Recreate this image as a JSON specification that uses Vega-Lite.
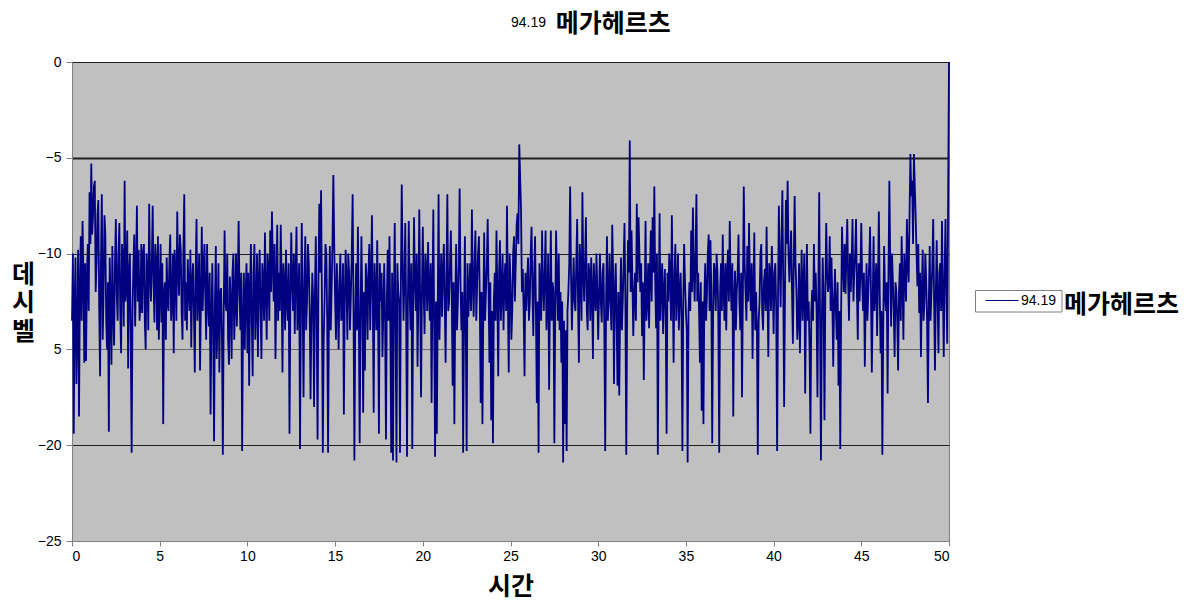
{
"$schema": "https://vega.github.io/schema/vega-lite/v6.json",
"width": 877, "height": 479,
"autosize": {"type": "none"},
"padding": {"left": 72, "top": 62, "right": 245, "bottom": 63},
"background": "white",
"title": {"text": "\u2800\u2800 메가헤르츠", "subtitle": "94.19", "anchor": "start", "frame": "group", "dx": 439, "font": "Noto Sans CJK KR, DejaVu Sans", "fontSize": 25, "fontWeight": "bold", "color": "black", "subtitleFont": "Liberation Sans", "subtitleFontSize": 14, "subtitleColor": "black", "subtitlePadding": -21, "offset": 18},
"config": {"view": {"fill": "#C0C0C0", "stroke": "#808080", "strokeWidth": 1}},
"data": {"values": [
{"t":0,"v":-13.5},{"t":0.1,"v":-19.4},{"t":0.2,"v":-10.2},{"t":0.3,"v":-14.2},{"t":0.4,"v":-18.5},{"t":0.5,"v":-9.1},{"t":0.6,"v":-8.3},{"t":0.7,"v":-15.7},{"t":0.8,"v":-15.6},{"t":0.9,"v":-9.5},
{"t":1,"v":-6.8},{"t":1.1,"v":-5.3},{"t":1.2,"v":-8.0},{"t":1.3,"v":-6.2},{"t":1.4,"v":-10.5},{"t":1.5,"v":-7.2},{"t":1.6,"v":-16.4},{"t":1.7,"v":-6.9},{"t":1.8,"v":-12.0},{"t":1.9,"v":-9.0},
{"t":2,"v":-15.0},{"t":2.1,"v":-19.3},{"t":2.2,"v":-12.5},{"t":2.3,"v":-9.6},{"t":2.4,"v":-14.8},{"t":2.5,"v":-8.2},{"t":2.6,"v":-13.5},{"t":2.7,"v":-8.4},{"t":2.8,"v":-15.2},{"t":2.9,"v":-10.4},
{"t":3,"v":-6.2},{"t":3.1,"v":-11.5},{"t":3.2,"v":-16.0},{"t":3.3,"v":-10.0},{"t":3.4,"v":-20.4},{"t":3.5,"v":-10.7},{"t":3.6,"v":-13.8},{"t":3.7,"v":-7.5},{"t":3.8,"v":-9.8},{"t":3.9,"v":-12.8},
{"t":4,"v":-13.1},{"t":4.1,"v":-9.5},{"t":4.2,"v":-15.0},{"t":4.3,"v":-11.0},{"t":4.4,"v":-7.4},{"t":4.5,"v":-12.5},{"t":4.6,"v":-7.5},{"t":4.7,"v":-13.6},{"t":4.8,"v":-10.5},{"t":4.9,"v":-9.1},
{"t":5,"v":-12.0},{"t":5.1,"v":-13.6},{"t":5.2,"v":-18.9},{"t":5.3,"v":-11.5},{"t":5.4,"v":-10.2},{"t":5.5,"v":-13.0},{"t":5.6,"v":-9.0},{"t":5.7,"v":-12.5},{"t":5.8,"v":-15.2},{"t":5.9,"v":-11.0},
{"t":6,"v":-7.8},{"t":6.1,"v":-12.2},{"t":6.2,"v":-9.8},{"t":6.3,"v":-14.5},{"t":6.4,"v":-6.9},{"t":6.5,"v":-11.5},{"t":6.6,"v":-10.3},{"t":6.7,"v":-13.0},{"t":6.8,"v":-14.9},{"t":6.9,"v":-10.5},
{"t":7,"v":-16.2},{"t":7.1,"v":-8.2},{"t":7.2,"v":-12.0},{"t":7.3,"v":-16.1},{"t":7.4,"v":-8.6},{"t":7.5,"v":-11.0},{"t":7.6,"v":-12.2},{"t":7.7,"v":-9.5},{"t":7.8,"v":-13.8},{"t":7.9,"v":-18.4},
{"t":8,"v":-10.5},{"t":8.1,"v":-19.8},{"t":8.2,"v":-9.6},{"t":8.3,"v":-13.5},{"t":8.4,"v":-16.2},{"t":8.5,"v":-11.8},{"t":8.6,"v":-20.5},{"t":8.7,"v":-8.8},{"t":8.8,"v":-13.0},{"t":8.9,"v":-14.5},
{"t":9,"v":-11.2},{"t":9.1,"v":-15.5},{"t":9.2,"v":-10.0},{"t":9.3,"v":-12.5},{"t":9.4,"v":-13.8},{"t":9.5,"v":-8.3},{"t":9.6,"v":-14.0},{"t":9.7,"v":-20.3},{"t":9.8,"v":-11.0},{"t":9.9,"v":-12.1},
{"t":10,"v":-15.2},{"t":10.1,"v":-16.9},{"t":10.2,"v":-9.5},{"t":10.3,"v":-16.4},{"t":10.4,"v":-9.5},{"t":10.5,"v":-12.8},{"t":10.6,"v":-15.4},{"t":10.7,"v":-9.8},{"t":10.8,"v":-15.5},{"t":10.9,"v":-11.5},
{"t":11,"v":-8.9},{"t":11.1,"v":-14.5},{"t":11.2,"v":-10.8},{"t":11.3,"v":-8.8},{"t":11.4,"v":-7.8},{"t":11.5,"v":-12.5},{"t":11.6,"v":-15.5},{"t":11.7,"v":-8.5},{"t":11.8,"v":-11.0},{"t":11.9,"v":-8.5},
{"t":12,"v":-16.2},{"t":12.1,"v":-11.5},{"t":12.2,"v":-9.8},{"t":12.3,"v":-13.5},{"t":12.4,"v":-19.4},{"t":12.5,"v":-8.9},{"t":12.6,"v":-13.0},{"t":12.7,"v":-14.2},{"t":12.8,"v":-8.6},{"t":12.9,"v":-12.0},
{"t":13,"v":-20.2},{"t":13.1,"v":-8.4},{"t":13.2,"v":-17.5},{"t":13.3,"v":-9.1},{"t":13.4,"v":-12.5},{"t":13.5,"v":-10.5},{"t":13.6,"v":-17.6},{"t":13.7,"v":-11.0},{"t":13.8,"v":-18.0},{"t":13.9,"v":-9.1},
{"t":14,"v":-19.7},{"t":14.1,"v":-7.4},{"t":14.2,"v":-6.7},{"t":14.3,"v":-20.4},{"t":14.4,"v":-12.4},{"t":14.5,"v":-10.0},{"t":14.6,"v":-20.4},{"t":14.7,"v":-9.6},{"t":14.8,"v":-12.0},{"t":14.9,"v":-5.9},
{"t":15,"v":-12.4},{"t":15.1,"v":-10.5},{"t":15.2,"v":-15.0},{"t":15.3,"v":-10.0},{"t":15.4,"v":-13.0},{"t":15.5,"v":-18.4},{"t":15.6,"v":-9.8},{"t":15.7,"v":-14.5},{"t":15.8,"v":-11.0},{"t":15.9,"v":-12.1},
{"t":16,"v":-6.9},{"t":16.1,"v":-20.8},{"t":16.2,"v":-10.5},{"t":16.3,"v":-8.6},{"t":16.4,"v":-19.9},{"t":16.5,"v":-9.1},{"t":16.6,"v":-18.3},{"t":16.7,"v":-16.1},{"t":16.8,"v":-11.5},{"t":16.9,"v":-11.0},
{"t":17,"v":-14.0},{"t":17.1,"v":-8.0},{"t":17.2,"v":-18.3},{"t":17.3,"v":-12.0},{"t":17.4,"v":-9.3},{"t":17.5,"v":-19.4},{"t":17.6,"v":-12.5},{"t":17.7,"v":-15.4},{"t":17.8,"v":-10.5},{"t":17.9,"v":-19.7},
{"t":18,"v":-9.8},{"t":18.1,"v":-9.1},{"t":18.2,"v":-20.4},{"t":18.3,"v":-20.8},{"t":18.4,"v":-8.4},{"t":18.5,"v":-20.9},{"t":18.6,"v":-12.0},{"t":18.7,"v":-20.4},{"t":18.8,"v":-6.4},{"t":18.9,"v":-13.5},
{"t":19,"v":-8.4},{"t":19.1,"v":-20.6},{"t":19.2,"v":-8.3},{"t":19.3,"v":-14.0},{"t":19.4,"v":-20.2},{"t":19.5,"v":-8.1},{"t":19.6,"v":-13.0},{"t":19.7,"v":-15.9},{"t":19.8,"v":-7.7},{"t":19.9,"v":-17.5},
{"t":20,"v":-8.6},{"t":20.1,"v":-14.2},{"t":20.2,"v":-11.0},{"t":20.3,"v":-9.4},{"t":20.4,"v":-13.5},{"t":20.5,"v":-17.8},{"t":20.6,"v":-7.7},{"t":20.7,"v":-20.6},{"t":20.8,"v":-19.4},{"t":20.9,"v":-6.9},
{"t":21,"v":-12.0},{"t":21.1,"v":-13.3},{"t":21.2,"v":-9.5},{"t":21.3,"v":-15.7},{"t":21.4,"v":-6.9},{"t":21.5,"v":-12.5},{"t":21.6,"v":-8.8},{"t":21.7,"v":-16.9},{"t":21.8,"v":-18.9},{"t":21.9,"v":-9.5},
{"t":22,"v":-12.5},{"t":22.1,"v":-6.6},{"t":22.2,"v":-14.0},{"t":22.3,"v":-20.4},{"t":22.4,"v":-9.1},{"t":22.5,"v":-20.3},{"t":22.6,"v":-13.3},{"t":22.7,"v":-10.5},{"t":22.8,"v":-7.7},{"t":22.9,"v":-13.3},
{"t":23,"v":-8.8},{"t":23.1,"v":-11.5},{"t":23.2,"v":-9.1},{"t":23.3,"v":-17.8},{"t":23.4,"v":-18.9},{"t":23.5,"v":-8.9},{"t":23.6,"v":-12.0},{"t":23.7,"v":-8.2},{"t":23.8,"v":-15.7},{"t":23.9,"v":-18.7},
{"t":24,"v":-19.9},{"t":24.1,"v":-11.0},{"t":24.2,"v":-8.8},{"t":24.3,"v":-16.4},{"t":24.4,"v":-9.3},{"t":24.5,"v":-12.0},{"t":24.6,"v":-14.0},{"t":24.7,"v":-10.5},{"t":24.8,"v":-7.5},{"t":24.9,"v":-16.2},
{"t":25,"v":-11.5},{"t":25.1,"v":-13.0},{"t":25.2,"v":-9.1},{"t":25.3,"v":-10.5},{"t":25.4,"v":-7.9},{"t":25.5,"v":-4.3},{"t":25.6,"v":-7.7},{"t":25.7,"v":-10.8},{"t":25.8,"v":-16.4},{"t":25.9,"v":-13.0},
{"t":26,"v":-10.2},{"t":26.1,"v":-12.5},{"t":26.2,"v":-8.6},{"t":26.3,"v":-14.3},{"t":26.4,"v":-9.1},{"t":26.5,"v":-17.8},{"t":26.6,"v":-20.4},{"t":26.7,"v":-12.0},{"t":26.8,"v":-8.8},{"t":26.9,"v":-13.0},
{"t":27,"v":-8.8},{"t":27.1,"v":-12.5},{"t":27.2,"v":-17.1},{"t":27.3,"v":-8.8},{"t":27.4,"v":-11.5},{"t":27.5,"v":-19.9},{"t":27.6,"v":-8.8},{"t":27.7,"v":-13.5},{"t":27.8,"v":-14.0},{"t":27.9,"v":-15.7},
{"t":28,"v":-20.9},{"t":28.1,"v":-18.9},{"t":28.2,"v":-20.3},{"t":28.3,"v":-12.0},{"t":28.4,"v":-6.5},{"t":28.5,"v":-14.0},{"t":28.6,"v":-10.2},{"t":28.7,"v":-13.0},{"t":28.8,"v":-8.2},{"t":28.9,"v":-15.7},
{"t":29,"v":-11.0},{"t":29.1,"v":-6.8},{"t":29.2,"v":-12.5},{"t":29.3,"v":-8.1},{"t":29.4,"v":-14.0},{"t":29.5,"v":-11.0},{"t":29.6,"v":-10.2},{"t":29.7,"v":-15.5},{"t":29.8,"v":-12.0},{"t":29.9,"v":-10.0},
{"t":30,"v":-14.5},{"t":30.1,"v":-10.0},{"t":30.2,"v":-13.6},{"t":30.3,"v":-10.5},{"t":30.4,"v":-20.3},{"t":30.5,"v":-9.1},{"t":30.6,"v":-12.5},{"t":30.7,"v":-12.2},{"t":30.8,"v":-8.5},{"t":30.9,"v":-16.8},
{"t":31,"v":-10.5},{"t":31.1,"v":-16.9},{"t":31.2,"v":-17.4},{"t":31.3,"v":-10.2},{"t":31.4,"v":-12.5},{"t":31.5,"v":-8.4},{"t":31.6,"v":-20.5},{"t":31.7,"v":-9.3},{"t":31.8,"v":-4.1},{"t":31.9,"v":-8.8},
{"t":32,"v":-14.3},{"t":32.1,"v":-11.0},{"t":32.2,"v":-7.4},{"t":32.3,"v":-8.1},{"t":32.4,"v":-12.0},{"t":32.5,"v":-14.3},{"t":32.6,"v":-16.6},{"t":32.7,"v":-8.3},{"t":32.8,"v":-12.5},{"t":32.9,"v":-13.9},
{"t":33,"v":-8.8},{"t":33.1,"v":-8.1},{"t":33.2,"v":-6.5},{"t":33.3,"v":-13.9},{"t":33.4,"v":-20.5},{"t":33.5,"v":-7.9},{"t":33.6,"v":-11.5},{"t":33.7,"v":-14.2},{"t":33.8,"v":-10.8},{"t":33.9,"v":-19.4},
{"t":34,"v":-12.5},{"t":34.1,"v":-11.0},{"t":34.2,"v":-8.0},{"t":34.3,"v":-15.7},{"t":34.4,"v":-9.5},{"t":34.5,"v":-12.0},{"t":34.6,"v":-14.0},{"t":34.7,"v":-11.0},{"t":34.8,"v":-20.3},{"t":34.9,"v":-9.5},
{"t":35,"v":-13.0},{"t":35.1,"v":-20.9},{"t":35.2,"v":-11.5},{"t":35.3,"v":-8.8},{"t":35.4,"v":-7.6},{"t":35.5,"v":-12.5},{"t":35.6,"v":-6.9},{"t":35.7,"v":-11.0},{"t":35.8,"v":-15.7},{"t":35.9,"v":-18.2},
{"t":36,"v":-18.9},{"t":36.1,"v":-10.5},{"t":36.2,"v":-12.2},{"t":36.3,"v":-9.0},{"t":36.4,"v":-9.3},{"t":36.5,"v":-19.9},{"t":36.6,"v":-10.5},{"t":36.7,"v":-13.0},{"t":36.8,"v":-11.0},{"t":36.9,"v":-20.4},
{"t":37,"v":-10.5},{"t":37.1,"v":-9.0},{"t":37.2,"v":-13.5},{"t":37.3,"v":-14.0},{"t":37.4,"v":-9.8},{"t":37.5,"v":-8.3},{"t":37.6,"v":-13.0},{"t":37.7,"v":-18.5},{"t":37.8,"v":-10.9},{"t":37.9,"v":-12.0},
{"t":38,"v":-9.0},{"t":38.1,"v":-14.0},{"t":38.2,"v":-17.5},{"t":38.3,"v":-6.5},{"t":38.4,"v":-12.0},{"t":38.5,"v":-9.6},{"t":38.6,"v":-8.4},{"t":38.7,"v":-13.0},{"t":38.8,"v":-15.5},{"t":38.9,"v":-8.9},
{"t":39,"v":-12.0},{"t":39.1,"v":-20.5},{"t":39.2,"v":-12.5},{"t":39.3,"v":-9.5},{"t":39.4,"v":-14.0},{"t":39.5,"v":-10.8},{"t":39.6,"v":-8.6},{"t":39.7,"v":-15.4},{"t":39.8,"v":-11.0},{"t":39.9,"v":-9.6},
{"t":40,"v":-14.2},{"t":40.1,"v":-10.5},{"t":40.2,"v":-20.3},{"t":40.3,"v":-7.5},{"t":40.4,"v":-12.8},{"t":40.5,"v":-6.7},{"t":40.6,"v":-18.0},{"t":40.7,"v":-7.2},{"t":40.8,"v":-6.2},{"t":40.9,"v":-11.5},
{"t":41,"v":-8.8},{"t":41.1,"v":-14.7},{"t":41.2,"v":-7.0},{"t":41.3,"v":-11.9},{"t":41.4,"v":-13.5},{"t":41.5,"v":-15.2},{"t":41.6,"v":-9.8},{"t":41.7,"v":-11.7},{"t":41.8,"v":-17.3},{"t":41.9,"v":-9.5},
{"t":42,"v":-12.5},{"t":42.1,"v":-19.4},{"t":42.2,"v":-11.9},{"t":42.3,"v":-9.5},{"t":42.4,"v":-11.0},{"t":42.5,"v":-17.5},{"t":42.6,"v":-6.8},{"t":42.7,"v":-20.8},{"t":42.8,"v":-10.2},{"t":42.9,"v":-18.7},
{"t":43,"v":-8.4},{"t":43.1,"v":-12.0},{"t":43.2,"v":-9.1},{"t":43.3,"v":-10.2},{"t":43.4,"v":-15.9},{"t":43.5,"v":-10.8},{"t":43.6,"v":-14.5},{"t":43.7,"v":-16.9},{"t":43.8,"v":-20.2},{"t":43.9,"v":-8.6},
{"t":44,"v":-12.0},{"t":44.1,"v":-12.1},{"t":44.2,"v":-8.2},{"t":44.3,"v":-13.5},{"t":44.4,"v":-12.0},{"t":44.5,"v":-8.2},{"t":44.6,"v":-11.0},{"t":44.7,"v":-8.2},{"t":44.8,"v":-14.5},{"t":44.9,"v":-12.5},
{"t":45,"v":-8.4},{"t":45.1,"v":-13.0},{"t":45.2,"v":-15.9},{"t":45.3,"v":-10.5},{"t":45.4,"v":-12.0},{"t":45.5,"v":-8.6},{"t":45.6,"v":-16.2},{"t":45.7,"v":-9.1},{"t":45.8,"v":-12.0},{"t":45.9,"v":-14.3},
{"t":46,"v":-7.8},{"t":46.1,"v":-15.2},{"t":46.2,"v":-20.5},{"t":46.3,"v":-9.6},{"t":46.4,"v":-13.0},{"t":46.5,"v":-17.3},{"t":46.6,"v":-6.2},{"t":46.7,"v":-13.8},{"t":46.8,"v":-11.4},{"t":46.9,"v":-15.4},
{"t":47,"v":-12.0},{"t":47.1,"v":-16.1},{"t":47.2,"v":-10.5},{"t":47.3,"v":-9.1},{"t":47.4,"v":-14.5},{"t":47.5,"v":-11.0},{"t":47.6,"v":-8.2},{"t":47.7,"v":-11.5},{"t":47.8,"v":-4.8},{"t":47.9,"v":-6.2},
{"t":48,"v":-4.8},{"t":48.1,"v":-8.1},{"t":48.2,"v":-11.7},{"t":48.3,"v":-13.1},{"t":48.4,"v":-15.4},{"t":48.5,"v":-9.8},{"t":48.6,"v":-12.5},{"t":48.7,"v":-11.4},{"t":48.8,"v":-17.8},{"t":48.9,"v":-9.6},
{"t":49,"v":-12.0},{"t":49.1,"v":-8.2},{"t":49.2,"v":-16.1},{"t":49.3,"v":-9.3},{"t":49.4,"v":-15.2},{"t":49.5,"v":-10.5},{"t":49.6,"v":-8.3},{"t":49.7,"v":-15.4},{"t":49.8,"v":-8.2},{"t":49.9,"v":-14.7},
{"t":50,"v":0},
{"t":0.05,"v":-10.0},{"t":0.15,"v":-12.5},{"t":0.25,"v":-16.8},{"t":0.35,"v":-9.8},{"t":0.45,"v":-12.0},{"t":0.55,"v":-13.5},{"t":0.65,"v":-11.0},{"t":0.75,"v":-10.5},{"t":0.85,"v":-11.2},{"t":0.95,"v":-13.0},
{"t":1.05,"v":-9.5},{"t":1.15,"v":-9.0},{"t":1.25,"v":-6.5},{"t":1.35,"v":-12.0},{"t":1.45,"v":-8.0},{"t":1.55,"v":-12.8},{"t":1.65,"v":-10.5},{"t":1.75,"v":-14.5},{"t":1.85,"v":-8.0},{"t":1.95,"v":-13.5},
{"t":2.05,"v":-11.5},{"t":2.15,"v":-10.2},{"t":2.25,"v":-15.8},{"t":2.35,"v":-13.0},{"t":2.45,"v":-10.5},{"t":2.55,"v":-12.0},{"t":2.65,"v":-10.0},{"t":2.75,"v":-13.0},{"t":2.85,"v":-9.5},{"t":2.95,"v":-13.8},
{"t":3.05,"v":-12.5},{"t":3.15,"v":-8.8},{"t":3.25,"v":-11.0},{"t":3.35,"v":-14.5},{"t":3.45,"v":-13.0},{"t":3.55,"v":-9.0},{"t":3.65,"v":-11.0},{"t":3.75,"v":-12.5},{"t":3.85,"v":-13.5},{"t":3.95,"v":-9.5},
{"t":4.05,"v":-10.0},{"t":4.15,"v":-13.5},{"t":4.25,"v":-10.0},{"t":4.35,"v":-14.0},{"t":4.45,"v":-11.0},{"t":4.55,"v":-10.5},{"t":4.65,"v":-11.5},{"t":4.75,"v":-9.5},{"t":4.85,"v":-14.0},{"t":4.95,"v":-14.5},
{"t":5.05,"v":-9.5},{"t":5.15,"v":-10.5},{"t":5.25,"v":-12.0},{"t":5.35,"v":-14.5},{"t":5.45,"v":-12.5},{"t":5.55,"v":-10.5},{"t":5.65,"v":-13.5},{"t":5.75,"v":-10.0},{"t":5.85,"v":-9.8},{"t":5.95,"v":-13.5},
{"t":6.05,"v":-11.0},{"t":6.15,"v":-9.0},{"t":6.25,"v":-13.0},{"t":6.35,"v":-10.0},{"t":6.45,"v":-13.5},{"t":6.55,"v":-14.0},{"t":6.65,"v":-12.0},{"t":6.75,"v":-9.8},{"t":6.85,"v":-11.5},{"t":6.95,"v":-13.0},
{"t":7.05,"v":-11.0},{"t":7.15,"v":-13.5},{"t":7.25,"v":-10.0},{"t":7.35,"v":-12.5},{"t":7.45,"v":-13.0},{"t":7.55,"v":-9.5},{"t":7.65,"v":-14.5},{"t":7.75,"v":-12.5},{"t":7.85,"v":-11.0},{"t":7.95,"v":-13.5},
{"t":8.05,"v":-14.0},{"t":8.15,"v":-12.5},{"t":8.25,"v":-15.5},{"t":8.35,"v":-10.5},{"t":8.45,"v":-12.0},{"t":8.55,"v":-14.5},{"t":8.65,"v":-13.0},{"t":8.75,"v":-12.5},{"t":8.85,"v":-10.0},{"t":8.95,"v":-15.8},
{"t":9.05,"v":-12.5},{"t":9.15,"v":-11.0},{"t":9.25,"v":-14.5},{"t":9.35,"v":-10.0},{"t":9.45,"v":-11.5},{"t":9.55,"v":-12.0},{"t":9.65,"v":-11.0},{"t":9.75,"v":-13.5},{"t":9.85,"v":-15.0},{"t":9.95,"v":-10.5},
{"t":10.05,"v":-11.0},{"t":10.15,"v":-12.0},{"t":10.25,"v":-13.5},{"t":10.35,"v":-11.0},{"t":10.45,"v":-14.5},{"t":10.55,"v":-10.0},{"t":10.65,"v":-11.5},{"t":10.75,"v":-13.0},{"t":10.85,"v":-10.5},{"t":10.95,"v":-13.5},
{"t":11.05,"v":-12.0},{"t":11.15,"v":-10.0},{"t":11.25,"v":-13.5},{"t":11.35,"v":-12.0},{"t":11.45,"v":-10.5},{"t":11.55,"v":-9.5},{"t":11.65,"v":-12.0},{"t":11.75,"v":-13.5},{"t":11.85,"v":-13.0},{"t":11.95,"v":-11.5},
{"t":12.05,"v":-10.5},{"t":12.15,"v":-14.0},{"t":12.25,"v":-12.5},{"t":12.35,"v":-10.5},{"t":12.45,"v":-12.5},{"t":12.55,"v":-11.5},{"t":12.65,"v":-10.0},{"t":12.75,"v":-11.0},{"t":12.85,"v":-14.0},{"t":12.95,"v":-10.5},
{"t":13.05,"v":-13.0},{"t":13.15,"v":-12.5},{"t":13.25,"v":-11.5},{"t":13.35,"v":-14.0},{"t":13.45,"v":-9.5},{"t":13.55,"v":-13.0},{"t":13.65,"v":-13.5},{"t":13.75,"v":-12.5},{"t":13.85,"v":-12.0},{"t":13.95,"v":-13.5},
{"t":14.05,"v":-11.5},{"t":14.15,"v":-11.0},{"t":14.25,"v":-12.5},{"t":14.35,"v":-14.5},{"t":14.45,"v":-9.5},{"t":14.55,"v":-13.5},{"t":14.65,"v":-13.0},{"t":14.75,"v":-14.0},{"t":14.85,"v":-9.5},{"t":14.95,"v":-9.5},
{"t":15.05,"v":-14.5},{"t":15.15,"v":-12.5},{"t":15.25,"v":-11.5},{"t":15.35,"v":-13.5},{"t":15.45,"v":-10.5},{"t":15.55,"v":-12.5},{"t":15.65,"v":-11.5},{"t":15.75,"v":-10.0},{"t":15.85,"v":-14.0},{"t":15.95,"v":-10.0},
{"t":16.05,"v":-13.0},{"t":16.15,"v":-13.5},{"t":16.25,"v":-14.0},{"t":16.35,"v":-13.0},{"t":16.45,"v":-13.5},{"t":16.55,"v":-12.5},{"t":16.65,"v":-12.0},{"t":16.75,"v":-10.5},{"t":16.85,"v":-14.5},{"t":16.95,"v":-9.5},
{"t":17.05,"v":-11.5},{"t":17.15,"v":-12.5},{"t":17.25,"v":-10.5},{"t":17.35,"v":-14.0},{"t":17.45,"v":-13.0},{"t":17.55,"v":-10.5},{"t":17.65,"v":-11.0},{"t":17.75,"v":-13.0},{"t":17.85,"v":-13.5},{"t":17.95,"v":-12.5},
{"t":18.05,"v":-13.5},{"t":18.15,"v":-14.0},{"t":18.25,"v":-11.0},{"t":18.35,"v":-12.5},{"t":18.45,"v":-14.0},{"t":18.55,"v":-10.5},{"t":18.65,"v":-12.5},{"t":18.75,"v":-11.5},{"t":18.85,"v":-10.5},{"t":18.95,"v":-11.5},
{"t":19.05,"v":-13.0},{"t":19.15,"v":-12.5},{"t":19.25,"v":-12.0},{"t":19.35,"v":-10.5},{"t":19.45,"v":-12.5},{"t":19.55,"v":-11.5},{"t":19.65,"v":-10.0},{"t":19.75,"v":-12.0},{"t":19.85,"v":-12.5},{"t":19.95,"v":-12.0},
{"t":20.05,"v":-12.0},{"t":20.15,"v":-10.0},{"t":20.25,"v":-13.0},{"t":20.35,"v":-12.0},{"t":20.45,"v":-10.5},{"t":20.55,"v":-12.0},{"t":20.65,"v":-14.0},{"t":20.75,"v":-12.5},{"t":20.85,"v":-13.0},{"t":20.95,"v":-14.5},
{"t":21.05,"v":-10.0},{"t":21.15,"v":-11.0},{"t":21.25,"v":-12.5},{"t":21.35,"v":-11.0},{"t":21.45,"v":-13.0},{"t":21.55,"v":-10.5},{"t":21.65,"v":-12.0},{"t":21.75,"v":-11.5},{"t":21.85,"v":-12.5},{"t":21.95,"v":-14.0},
{"t":22.05,"v":-10.5},{"t":22.15,"v":-11.5},{"t":22.25,"v":-12.0},{"t":22.35,"v":-13.5},{"t":22.45,"v":-14.0},{"t":22.55,"v":-10.5},{"t":22.65,"v":-12.0},{"t":22.75,"v":-13.0},{"t":22.85,"v":-11.5},{"t":22.95,"v":-10.5},
{"t":23.05,"v":-13.5},{"t":23.15,"v":-10.0},{"t":23.25,"v":-12.5},{"t":23.35,"v":-12.0},{"t":23.45,"v":-13.0},{"t":23.55,"v":-13.5},{"t":23.65,"v":-10.5},{"t":23.75,"v":-12.0},{"t":23.85,"v":-11.5},{"t":23.95,"v":-13.0},
{"t":24.05,"v":-12.5},{"t":24.15,"v":-13.5},{"t":24.25,"v":-12.0},{"t":24.35,"v":-11.0},{"t":24.45,"v":-13.5},{"t":24.55,"v":-10.0},{"t":24.65,"v":-11.5},{"t":24.75,"v":-13.0},{"t":24.85,"v":-12.5},{"t":24.95,"v":-10.0},
{"t":25.05,"v":-14.5},{"t":25.15,"v":-10.0},{"t":25.25,"v":-12.5},{"t":25.35,"v":-8.5},{"t":25.45,"v":-9.5},{"t":25.55,"v":-6.0},{"t":25.65,"v":-12.0},{"t":25.75,"v":-13.0},{"t":25.85,"v":-11.0},{"t":25.95,"v":-11.5},
{"t":26.05,"v":-13.5},{"t":26.15,"v":-10.0},{"t":26.25,"v":-12.0},{"t":26.35,"v":-11.0},{"t":26.45,"v":-13.0},{"t":26.55,"v":-12.5},{"t":26.65,"v":-10.5},{"t":26.75,"v":-13.5},{"t":26.85,"v":-11.5},{"t":26.95,"v":-11.0},
{"t":27.05,"v":-14.0},{"t":27.15,"v":-10.0},{"t":27.25,"v":-12.5},{"t":27.35,"v":-13.5},{"t":27.45,"v":-12.0},{"t":27.55,"v":-13.0},{"t":27.65,"v":-11.5},{"t":27.75,"v":-10.0},{"t":27.85,"v":-12.0},{"t":27.95,"v":-12.5},
{"t":28.05,"v":-13.5},{"t":28.15,"v":-14.0},{"t":28.25,"v":-13.0},{"t":28.35,"v":-10.5},{"t":28.45,"v":-11.0},{"t":28.55,"v":-12.0},{"t":28.65,"v":-12.5},{"t":28.75,"v":-10.5},{"t":28.85,"v":-12.5},{"t":28.95,"v":-9.5},
{"t":29.05,"v":-13.5},{"t":29.15,"v":-11.0},{"t":29.25,"v":-10.5},{"t":29.35,"v":-13.0},{"t":29.45,"v":-10.5},{"t":29.55,"v":-13.5},{"t":29.65,"v":-12.0},{"t":29.75,"v":-10.5},{"t":29.85,"v":-13.0},{"t":29.95,"v":-12.0},
{"t":30.05,"v":-12.0},{"t":30.15,"v":-12.5},{"t":30.25,"v":-11.0},{"t":30.35,"v":-14.0},{"t":30.45,"v":-12.5},{"t":30.55,"v":-13.5},{"t":30.65,"v":-10.0},{"t":30.75,"v":-14.0},{"t":30.85,"v":-11.0},{"t":30.95,"v":-12.0},
{"t":31.05,"v":-13.5},{"t":31.15,"v":-12.0},{"t":31.25,"v":-13.0},{"t":31.35,"v":-14.0},{"t":31.45,"v":-10.5},{"t":31.55,"v":-12.5},{"t":31.65,"v":-13.0},{"t":31.75,"v":-11.0},{"t":31.85,"v":-12.0},{"t":31.95,"v":-11.5},
{"t":32.05,"v":-12.0},{"t":32.15,"v":-13.5},{"t":32.25,"v":-11.5},{"t":32.35,"v":-10.0},{"t":32.45,"v":-10.5},{"t":32.55,"v":-11.5},{"t":32.65,"v":-12.5},{"t":32.75,"v":-13.5},{"t":32.85,"v":-10.5},{"t":32.95,"v":-11.0},
{"t":33.05,"v":-12.5},{"t":33.15,"v":-11.0},{"t":33.25,"v":-11.5},{"t":33.35,"v":-10.0},{"t":33.45,"v":-12.5},{"t":33.55,"v":-13.5},{"t":33.65,"v":-10.5},{"t":33.75,"v":-12.0},{"t":33.85,"v":-13.5},{"t":33.95,"v":-11.0},
{"t":34.05,"v":-10.0},{"t":34.15,"v":-13.5},{"t":34.25,"v":-12.0},{"t":34.35,"v":-11.0},{"t":34.45,"v":-13.5},{"t":34.55,"v":-10.0},{"t":34.65,"v":-12.0},{"t":34.75,"v":-13.5},{"t":34.85,"v":-12.5},{"t":34.95,"v":-11.5},
{"t":35.05,"v":-14.0},{"t":35.15,"v":-13.0},{"t":35.25,"v":-13.0},{"t":35.35,"v":-12.0},{"t":35.45,"v":-11.0},{"t":35.55,"v":-10.0},{"t":35.65,"v":-12.5},{"t":35.75,"v":-13.0},{"t":35.85,"v":-11.5},{"t":35.95,"v":-12.5},
{"t":36.05,"v":-12.5},{"t":36.15,"v":-13.5},{"t":36.25,"v":-10.0},{"t":36.35,"v":-13.0},{"t":36.45,"v":-12.0},{"t":36.55,"v":-13.5},{"t":36.65,"v":-11.0},{"t":36.75,"v":-10.0},{"t":36.85,"v":-13.5},{"t":36.95,"v":-12.0},
{"t":37.05,"v":-13.0},{"t":37.15,"v":-12.0},{"t":37.25,"v":-10.5},{"t":37.35,"v":-11.0},{"t":37.45,"v":-12.5},{"t":37.55,"v":-11.5},{"t":37.65,"v":-10.5},{"t":37.75,"v":-12.5},{"t":37.85,"v":-14.0},{"t":37.95,"v":-11.0},
{"t":38.05,"v":-12.5},{"t":38.15,"v":-11.0},{"t":38.25,"v":-12.0},{"t":38.35,"v":-10.5},{"t":38.45,"v":-13.5},{"t":38.55,"v":-12.5},{"t":38.65,"v":-11.5},{"t":38.75,"v":-10.5},{"t":38.85,"v":-12.0},{"t":38.95,"v":-14.0},
{"t":39.05,"v":-14.0},{"t":39.15,"v":-13.5},{"t":39.25,"v":-10.0},{"t":39.35,"v":-13.0},{"t":39.45,"v":-11.5},{"t":39.55,"v":-13.0},{"t":39.65,"v":-12.0},{"t":39.75,"v":-10.5},{"t":39.85,"v":-13.0},{"t":39.95,"v":-11.5},
{"t":40.05,"v":-11.0},{"t":40.15,"v":-13.0},{"t":40.25,"v":-12.5},{"t":40.35,"v":-10.5},{"t":40.45,"v":-9.5},{"t":40.55,"v":-11.5},{"t":40.65,"v":-12.0},{"t":40.75,"v":-9.5},{"t":40.85,"v":-10.0},{"t":40.95,"v":-10.0},
{"t":41.05,"v":-12.0},{"t":41.15,"v":-10.5},{"t":41.25,"v":-10.5},{"t":41.35,"v":-14.5},{"t":41.45,"v":-10.5},{"t":41.55,"v":-12.0},{"t":41.65,"v":-13.5},{"t":41.75,"v":-10.0},{"t":41.85,"v":-12.5},{"t":41.95,"v":-13.5},
{"t":42.05,"v":-15.0},{"t":42.15,"v":-13.0},{"t":42.25,"v":-13.5},{"t":42.35,"v":-12.5},{"t":42.45,"v":-13.0},{"t":42.55,"v":-12.0},{"t":42.65,"v":-13.5},{"t":42.75,"v":-13.5},{"t":42.85,"v":-12.5},{"t":42.95,"v":-12.0},
{"t":43.05,"v":-11.0},{"t":43.15,"v":-11.5},{"t":43.25,"v":-13.0},{"t":43.35,"v":-12.5},{"t":43.45,"v":-12.5},{"t":43.55,"v":-13.0},{"t":43.65,"v":-11.5},{"t":43.75,"v":-13.0},{"t":43.85,"v":-13.0},{"t":43.95,"v":-10.5},
{"t":44.05,"v":-9.5},{"t":44.15,"v":-10.0},{"t":44.25,"v":-11.5},{"t":44.35,"v":-10.0},{"t":44.45,"v":-10.5},{"t":44.55,"v":-12.5},{"t":44.65,"v":-10.0},{"t":44.75,"v":-12.0},{"t":44.85,"v":-10.5},{"t":44.95,"v":-11.0},
{"t":45.05,"v":-11.5},{"t":45.15,"v":-11.0},{"t":45.25,"v":-12.5},{"t":45.35,"v":-13.5},{"t":45.45,"v":-10.5},{"t":45.55,"v":-12.0},{"t":45.65,"v":-12.5},{"t":45.75,"v":-13.0},{"t":45.85,"v":-10.5},{"t":45.95,"v":-11.5},
{"t":46.05,"v":-12.0},{"t":46.15,"v":-13.0},{"t":46.25,"v":-14.0},{"t":46.35,"v":-12.0},{"t":46.45,"v":-11.5},{"t":46.55,"v":-11.0},{"t":46.65,"v":-10.5},{"t":46.75,"v":-10.0},{"t":46.85,"v":-13.0},{"t":46.95,"v":-11.5},
{"t":47.05,"v":-13.5},{"t":47.15,"v":-12.0},{"t":47.25,"v":-13.5},{"t":47.35,"v":-11.5},{"t":47.45,"v":-10.0},{"t":47.55,"v":-12.5},{"t":47.65,"v":-10.5},{"t":47.75,"v":-8.0},{"t":47.85,"v":-7.0},{"t":47.95,"v":-9.5},
{"t":48.05,"v":-6.5},{"t":48.15,"v":-10.0},{"t":48.25,"v":-9.5},{"t":48.35,"v":-11.0},{"t":48.45,"v":-12.0},{"t":48.55,"v":-13.5},{"t":48.65,"v":-10.0},{"t":48.75,"v":-13.5},{"t":48.85,"v":-12.5},{"t":48.95,"v":-13.5},
{"t":49.05,"v":-10.5},{"t":49.15,"v":-12.5},{"t":49.25,"v":-12.0},{"t":49.35,"v":-12.5},{"t":49.45,"v":-11.0},{"t":49.55,"v":-13.0},{"t":49.65,"v":-12.0},{"t":49.75,"v":-11.0},{"t":49.85,"v":-12.0}
]},
"mark": {"type": "line", "strokeWidth": 1.8},
"encoding": {
"x": {"field": "t", "type": "quantitative", "scale": {"domain": [0, 50], "nice": false},
  "axis": {"values": [0,5,10,15,20,25,30,35,40,45,50], "title": "시간", "grid": false, "domainColor": "#808080", "tickColor": "#808080", "tickSize": 5, "labelFont": "Liberation Sans", "labelFontSize": 14, "labelColor": "black", "labelPadding": 3, "titleFont": "Noto Sans CJK KR", "titleFontSize": 25, "titleFontWeight": "bold", "titleColor": "black", "titlePadding": 11}},
"y": {"field": "v", "type": "quantitative", "scale": {"domain": [-25, 0], "nice": false},
  "axis": {"values": [0,-5,-10,-15,-20,-25], "labelExpr": "datum.value == -15 ? '5' : datum.label", "grid": true,
    "gridColor": {"condition": {"test": "datum.value == -15", "value": "#6a6a6a"}, "value": "#202020"},
    "gridWidth": {"condition": {"test": "datum.value == -5", "value": 2}, "value": 1},
    "domainColor": "#808080", "tickColor": "#808080", "tickSize": 6, "labelFont": "Liberation Sans", "labelFontSize": 14, "labelColor": "black", "labelPadding": 5,
    "title": ["데", "시", "벨"], "titleAngle": 0, "titleAlign": "center", "titleBaseline": "top", "titleX": -49, "titleY": 200, "titleLineHeight": 28.5, "titleFont": "Noto Sans CJK KR", "titleFontSize": 25, "titleFontWeight": "bold", "titleColor": "black"}},
"color": {"datum": "94.19", "scale": {"range": ["#000080"]},
  "legend": {"orient": "none", "legendX": 903, "legendY": 228, "padding": 0, "symbolType": "stroke", "symbolSize": 1089, "symbolStrokeWidth": 1, "symbolOffset": 10, "clipHeight": 21, "labelFont": "Liberation Sans", "labelFontSize": 14, "labelColor": "black", "labelOffset": 2,
    "title": "메가헤르츠", "titleOrient": "right", "titleFont": "Noto Sans CJK KR", "titleFontSize": 25, "titleFontWeight": "bold", "titleColor": "black", "titlePadding": 2, "titleLimit": 300,
    "encoding": {"entries": {"stroke": {"value": "#808080"}, "strokeWidth": {"value": 1}, "width": {"value": 86}, "height": {"value": 21}}, "title": {"dy": {"value": 4}}}}}
}
}
